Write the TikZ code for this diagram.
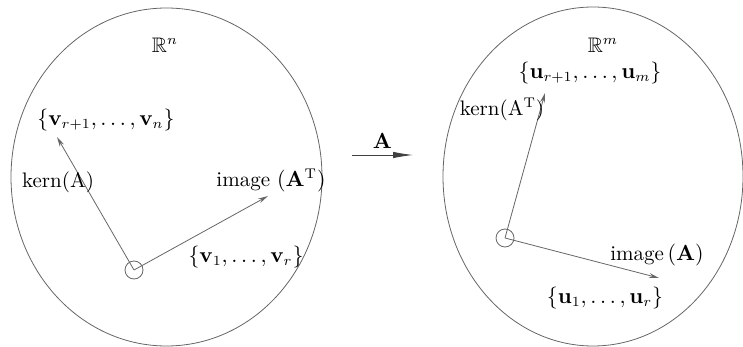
\documentclass[tikz,border=0pt]{standalone}
\usepackage{amsmath,amssymb}
\usetikzlibrary{arrows.meta,shapes.geometric}
\begin{document}
\begin{tikzpicture}[x=0.5pt,y=-0.5pt,
  line/.style={draw=black!60,line width=0.4pt},
  vec/.style={line,-{Stealth[length=5pt,width=2.4pt]}},
  lbl/.style={inner sep=0pt,font=\fontsize{10.5}{12}\selectfont}]
\useasboundingbox (0,0) rectangle (743,347);
% spaces
\node[line,ellipse,minimum width=155.5pt,minimum height=169pt,inner sep=0pt] (Rn) at (166.5,177) {};
\node[line,ellipse,minimum width=150pt,minimum height=169.5pt,inner sep=0pt] (Rm) at (593,176.5) {};
% origins
\node[line,circle,minimum size=9pt,inner sep=0pt] (o1) at (134,270) {};
\node[line,circle,minimum size=9pt,inner sep=0pt] (o2) at (505,238) {};
\coordinate (k1) at (57,137);
\coordinate (i1) at (268,196);
\coordinate (k2) at (545,93);
\coordinate (i2) at (659,278);
\draw[vec] (o1.center) -- (k1);
\draw[vec] (o1.center) -- (i1);
\draw[vec] (o2.center) -- (k2);
\draw[vec] (o2.center) -- (i2);
% labels left
\node[lbl] (ln) at (165,45) {$\mathbb{R}^n$};
\node[lbl] (lv2) at (106,120) {$\{\mathbf{v}_{r+1},\dots,\mathbf{v}_n\}$};
\node[lbl] (lk1) at (58,182) {kern(A)};
\node[lbl] (li1) at (271,180) {image $(\mathbf{A}^{\mathrm{T}})$};
\node[lbl] (lv1) at (246,257) {$\{\mathbf{v}_1,\dots,\mathbf{v}_r\}$};
% map arrow
\coordinate (a1) at (352,155);
\coordinate (a2) at (413,155);
\draw[line,draw=black!75,-{Latex[length=10pt,width=3.2pt]}] (a1) -- (a2) node[lbl,midway,above=3pt] (la) {$\mathbf{A}$};
% labels right
\node[lbl] (lm) at (603,45) {$\mathbb{R}^m$};
\node[lbl] (lu2) at (590,73) {$\{\mathbf{u}_{r+1},\dots,\mathbf{u}_m\}$};
\node[lbl] (lk2) at (502,109) {kern(A$^{\mathrm{T}}$)};
\node[lbl] (li2) at (657,255) {image$\,(\mathbf{A})$};
\node[lbl] (lu1) at (605,298) {$\{\mathbf{u}_1,\dots,\mathbf{u}_r\}$};
\end{tikzpicture}
\end{document}
